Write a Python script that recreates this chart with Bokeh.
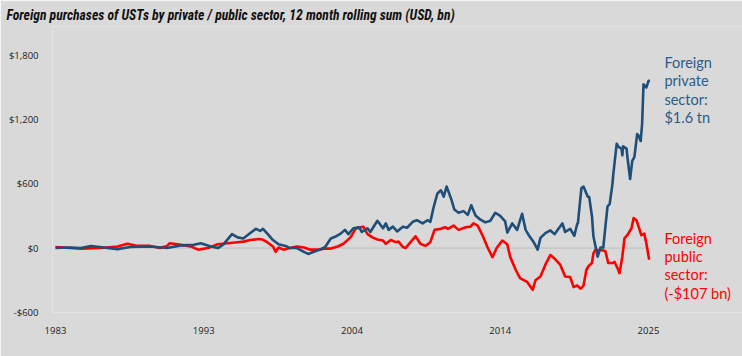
from bokeh.plotting import figure
from bokeh.models import FixedTicker, Label, Range1d
from bokeh.embed import file_html
from bokeh.resources import INLINE

# ---- data (USD bn, 12 month rolling sum) ----
private_years = [1983.0, 1983.85, 1984.8, 1985.5, 1987.4, 1988.3, 1989.7, 1990.9, 1991.9, 1992.8,
                 1993.3, 1994.0, 1994.5, 1994.9, 1995.5, 1995.9, 1996.3, 1996.8, 1997.2, 1997.5,
                 1997.7, 1998.1, 1998.4, 1998.8, 1999.3, 1999.6, 2000.1, 2000.6, 2000.9, 2001.3,
                 2001.8, 2002.1, 2002.5, 2002.8, 2003.2, 2003.5, 2003.75, 2004.1, 2004.5, 2004.7,
                 2005.1, 2005.3, 2005.8, 2006.2, 2006.4, 2006.6, 2006.9, 2007.2, 2007.6, 2007.9,
                 2008.3, 2008.6, 2009.0, 2009.35, 2009.55, 2009.8, 2010.05, 2010.3, 2010.5, 2010.7,
                 2010.8, 2011.05, 2011.25, 2011.55, 2011.9, 2012.2, 2012.45, 2012.75, 2013.1, 2013.45,
                 2013.8, 2014.15, 2014.5, 2014.85, 2015.0, 2015.35, 2015.7, 2016.05, 2016.3, 2016.5,
                 2016.85, 2017.15, 2017.35, 2017.7, 2018.05, 2018.35, 2018.6, 2018.9, 2019.1, 2019.45,
                 2019.75, 2019.95, 2020.0, 2020.25, 2020.4, 2020.7, 2020.8, 2021.0, 2021.1, 2021.4,
                 2021.6, 2021.8, 2021.95, 2022.1, 2022.25, 2022.45, 2022.5, 2022.75, 2022.85, 2023.1,
                 2023.15, 2023.2, 2023.45, 2023.5, 2023.7, 2023.85, 2024.0, 2024.2, 2024.3, 2024.45,
                 2024.55, 2024.65, 2024.85, 2025.0, 2025.1]
private_values = [0, 5, 0, 20, -10, 10, 15, 0, 25, 30,
                  45, 15, 0, 35, 130, 100, 90, 140, 180, 160,
                  180, 120, 75, 35, 20, 0, 0, -35, -55, -35,
                  -12, 10, 90, 105, 135, 170, 130, 185, 195, 150,
                  185, 150, 255, 185, 230, 170, 200, 155, 200, 190,
                  245, 260, 230, 260, 245, 390, 510, 540, 480, 575,
                  540, 450, 360, 330, 345, 310, 400, 305, 265, 240,
                  255, 330, 300, 250, 145, 230, 170, 320, 170, 125,
                  60, -15, 95, 140, 165, 130, 175, 230, 150, 180,
                  115, 225, 230, 560, 575, 480, 480, 295, 110, -80,
                  5, 5, 200, 390, 410, 600, 680, 975, 950, 925,
                  865, 950, 930, 860, 645, 815, 850, 1065, 1050, 1000,
                  1160, 1530, 1500, 1560, 1565]

public_years = [1983.0, 1984.8, 1986.2, 1987.4, 1988.1, 1988.8, 1989.7, 1990.4, 1990.9, 1991.1,
                1991.9, 1992.6, 1993.1, 1993.8, 1994.5, 1995.2, 1995.9, 1996.3, 1996.8, 1997.4,
                1997.65, 1998.0, 1998.4, 1998.6, 1998.8, 1999.15, 1999.6, 2000.1, 2000.6, 2001.05,
                2001.55, 2002.0, 2002.5, 2003.0, 2003.4, 2003.9, 2004.25, 2004.6, 2004.8, 2005.1,
                2005.45, 2005.8, 2006.2, 2006.4, 2006.75, 2007.1, 2007.3, 2007.6, 2007.8, 2008.15,
                2008.5, 2008.85, 2009.2, 2009.55, 2009.85, 2010.3, 2010.6, 2010.8, 2011.2, 2011.55,
                2012.05, 2012.4, 2012.6, 2012.9, 2013.25, 2013.6, 2013.95, 2014.25, 2014.65, 2015.0,
                2015.2, 2015.6, 2015.9, 2016.4, 2016.8, 2017.0, 2017.35, 2017.7, 2018.05, 2018.4,
                2018.75, 2019.1, 2019.45, 2019.7, 2019.95, 2020.2, 2020.4, 2020.6, 2020.75, 2021.0,
                2021.1, 2021.25, 2021.45, 2021.75, 2021.95, 2022.15, 2022.45, 2022.6, 2022.8, 2022.95,
                2023.15, 2023.3, 2023.5, 2023.8, 2023.95, 2024.15, 2024.3, 2024.5, 2024.7, 2024.85,
                2025.05]
public_values = [10, -5, 0, 15, 40, 20, 20, 0, 20, 45,
                 30, 15, -15, 0, 35, 45, 55, 60, 75, 85,
                 80, 55, 15, -35, 5, -15, 0, 15, 5, -15,
                 -15, -5, -5, 15, 40, 100, 180, 195, 200, 130,
                 100, 80, 70, 40, 75, 55, 60, 10, 0, 55,
                 110, 40, 20, 55, 170, 180, 195, 180, 210, 170,
                 195, 200, 230, 210, 117, 8, -85, 0, 70, 35,
                 -80, -205, -280, -315, -390, -300, -265, -155, -65, -105,
                 -155, -265, -270, -365, -350, -380, -350, -205, -170, -140,
                 -50, -15, -20, -20, -30, -140, -140, -130, -185, -235,
                 -80, 90, 120, 185, 280, 260, 200, 120, 135, 45,
                 -110]

x_tick_positions = [1983.0, 1993.5, 2004.0, 2014.5, 2025.0]
x_tick_labels = ["1983", "1993", "2004", "2014", "2025"]
y_ticks = [-600, 0, 600, 1200, 1800]
y_tick_labels = ["-$600", "$0", "$600", "$1,200", "$1,800"]

title_text = "Foreign purchases of USTs by private / public sector, 12 month rolling sum (USD, bn)"
private_note = ["Foreign", "private", "sector:", "$1.6 tn"]
public_note = ["Foreign", "public", "sector:", "(-$107 bn)"]

BG = "#D9D9D9"
BLUE = "#1F4E79"
BLUE_TXT = "#2B5C8A"
RED = "#FF0000"

p = figure(width=742, height=356, output_backend="svg", toolbar_location=None,
           x_range=Range1d(1982.79, 2031.66), y_range=Range1d(-602, 2070),
           min_border_left=52, min_border_right=0, min_border_top=26, min_border_bottom=44,
           title=title_text)
p.background_fill_color = BG
p.border_fill_color = BG
p.outline_line_color = None
p.grid.visible = False

p.title.align = "left"
p.title.offset = -46
p.title.standoff = 8
p.title.text_font = "'Liberation Sans Narrow', 'Roboto Condensed', 'DejaVu Sans Condensed', sans-serif"
p.title.text_font_style = "bold italic"
p.title.text_font_size = "13.7px"
p.title.text_color = "#111111"

# zero line across the data span
p.segment(x0=[min(private_years)], y0=[0], x1=[max(private_years)], y1=[0],
          line_color="#BEBEBE", line_width=1)

p.line(public_years, public_values, line_color=RED, line_width=2.6, line_join="round")
p.line(private_years, private_values, line_color=BLUE, line_width=2.6, line_join="round")

for ax in (p.xaxis[0], p.yaxis[0]):
    ax.axis_line_color = None
    ax.major_tick_line_color = None
    ax.minor_tick_line_color = None
    ax.major_label_text_font = "Open Sans"
    ax.major_label_text_font_size = "9.5px"
    ax.major_label_text_color = "#222222"

p.xaxis.ticker = FixedTicker(ticks=x_tick_positions)
p.xaxis.major_label_overrides = dict(zip(x_tick_positions, x_tick_labels))
p.xaxis.major_label_standoff = 8
p.yaxis.ticker = FixedTicker(ticks=y_ticks)
p.yaxis.major_label_overrides = dict(zip(y_ticks, y_tick_labels))
p.yaxis.major_label_standoff = 8

# right-side notes
note_x = 2026.13
for txt, yv in zip(private_note, [1733, 1563, 1392, 1221]):
    p.add_layout(Label(x=note_x, y=yv, text=txt, text_font="Lato", text_font_size="14.5px",
                       text_color=BLUE_TXT, text_align="left", text_baseline="middle"))
for txt, yv in zip(public_note, [91, -79, -250, -421]):
    p.add_layout(Label(x=note_x, y=yv, text=txt, text_font="Lato", text_font_size="14.5px",
                       text_color=RED, text_align="left", text_baseline="middle"))

open("out.html", "w").write(file_html(p, INLINE))
